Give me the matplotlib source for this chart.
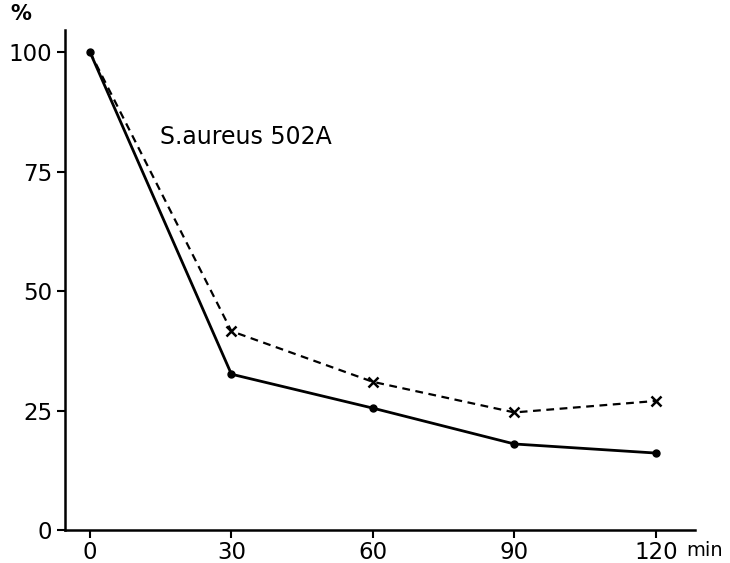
import matplotlib
matplotlib.use("Agg")
import matplotlib.pyplot as plt

plt.rcParams['font.family'] = ['DejaVu Sans']

minutes = [0, 30, 60, 90, 120]
solid_pct = [100, 32.6, 25.5, 18.0, 16.1]
dashed_pct = [100, 41.6, 31.0, 24.6, 27.0]
x_ticks = [0, 30, 60, 90, 120]
y_ticks = [0, 25, 50, 75, 100]
label = "S.aureus 502A"

fig = plt.figure(figsize=(7.3, 5.63), dpi=100)
ax = fig.add_axes([0.089, 0.0586, 0.863, 0.888])

# dashed series: the 0 min cross sits under the solid dot, so skip it
ax.plot(minutes, dashed_pct, linestyle=(0, (3.5, 2.5)), color='black', lw=1.6,
        marker='x', markersize=7, markeredgewidth=1.8, markevery=[1, 2, 3, 4])
ax.plot(minutes, solid_pct, linestyle='-', color='black', lw=2.0,
        marker='o', markersize=5)

ax.set_xlim(-5.3, 128.3)
ax.set_ylim(0, 104.6)
ax.set_xticks(x_ticks)
ax.set_yticks(y_ticks)
ax.tick_params(direction='out', length=6, width=1.5, labelsize=16.5)
ax.tick_params(axis='x', pad=2)
ax.tick_params(axis='y', pad=3)

for side in ['top', 'right']:
    ax.spines[side].set_visible(False)
for side in ['left', 'bottom']:
    ax.spines[side].set_linewidth(1.8)

ax.text(14.8, 82.2, label, fontsize=17, va='center', ha='left')
fig.text(10 / 730, 1 - 4 / 563, '%', fontsize=15, fontweight='bold',
         ha='left', va='top')
fig.text(686 / 730, 1 - 550 / 563, 'min', fontsize=14, ha='left', va='center')

fig.savefig("out.png", dpi=100)
